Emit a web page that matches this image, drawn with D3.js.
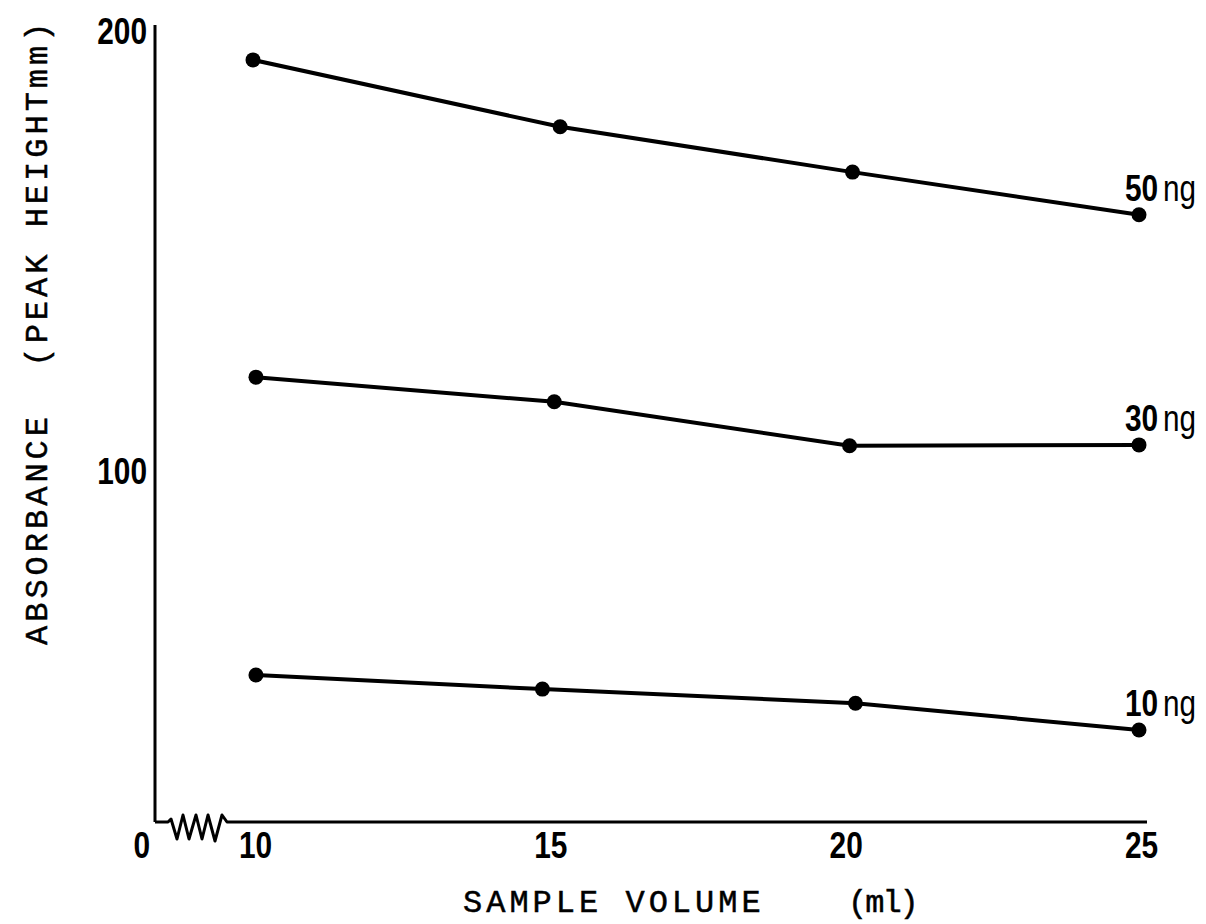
<!DOCTYPE html>
<html>
<head>
<meta charset="utf-8">
<script src="https://cdn.jsdelivr.net/npm/d3@7/dist/d3.min.js"></script>
<style>
  html, body { margin: 0; padding: 0; background: #fff; }
  svg { display: block; }
  .num { font-family: "Liberation Sans", Arial, sans-serif; font-weight: bold; font-size: 37px; fill: #000; }
  .unit { font-family: "Liberation Sans", Arial, sans-serif; font-weight: normal; font-size: 36px; fill: #000; }
  .title { font-family: "Liberation Mono", "DejaVu Sans Mono", monospace; font-size: 32px; fill: #000; stroke: #000; stroke-width: 0.5px; }
</style>
</head>
<body>
<script>
// ---- data ----
const seriesNames = ["50", "30", "10"];
const xTickValues = [10, 15, 20, 25];
const yTickValues = [100, 200];
const x50 = [10.0, 15.2, 20.15, 25.0];
const y50 = [193.2, 178.0, 167.7, 158.0];
const x30 = [10.05, 15.1, 20.1, 25.0];
const y30 = [121.1, 115.5, 105.5, 105.7];
const x10 = [10.05, 14.9, 20.2, 25.0];
const y10 = [53.4, 50.2, 47.0, 40.9];
const originLabel = "0";
const xTitleMain = "SAMPLE VOLUME";
const xTitleUnit = "(ml)";
const yTitle = "ABSORBANCE  (PEAK HEIGHTmm)";

const W = 1206, H = 924;
const DIGIT_W = 16.6;
const svg = d3.select("body").append("svg").attr("width", W).attr("height", H);

const x = d3.scaleLinear().domain([10, 25]).range([253, 1139]);
const y = d3.scaleLinear().domain([20, 200]).range([822, 30]);
const axisX = 155;
const baseY = y(20);

function condense(sel) {
  sel.each(function() {
    const n = this.textContent.length;
    d3.select(this).attr("textLength", n * DIGIT_W).attr("lengthAdjust", "spacingAndGlyphs");
  });
}

// y axis line
svg.append("line").attr("x1", axisX).attr("x2", axisX).attr("y1", 25).attr("y2", baseY)
  .attr("stroke", "#000").attr("stroke-width", 3);

// x axis with zigzag break
const zz = [[0,0],[13,0],[16,-3],[22,17],[28,-7],[34,17],[41,-7],[47,17],[53,-7],[60,19],[67,-7],[72,0],[78,0]];
const zzPath = d3.line()(zz.map(p => [axisX + p[0], baseY + p[1]]));
svg.append("path").attr("d", zzPath).attr("fill", "none").attr("stroke", "#000")
  .attr("stroke-width", 3).attr("stroke-linejoin", "round");
svg.append("line").attr("x1", axisX + 78).attr("x2", x(25) + 8).attr("y1", baseY).attr("y2", baseY)
  .attr("stroke", "#000").attr("stroke-width", 3);

// y tick labels
const yAxis = d3.axisLeft(y).tickValues(yTickValues).tickSize(0).tickPadding(8);
const gy = svg.append("g").attr("transform", `translate(${axisX},0)`).call(yAxis);
gy.select(".domain").remove();
gy.selectAll("text").attr("class", "num").attr("font-size", null).attr("font-family", null)
  .attr("dy", "0.36em").call(condense);

// x tick labels
const xAxis = d3.axisBottom(x).tickValues(xTickValues).tickSize(0).tickPadding(0);
const gx = svg.append("g").attr("transform", `translate(0,${baseY})`).call(xAxis);
gx.select(".domain").remove();
gx.selectAll("text").attr("class", "num").attr("font-size", null).attr("font-family", null)
  .attr("dy", null).attr("y", 36).attr("dx", 2).call(condense);

// origin label
svg.append("text").attr("class", "num").attr("x", axisX - 5).attr("y", baseY + 36)
  .attr("text-anchor", "end").text(originLabel).call(condense);

// series
const series = [
  { name: seriesNames[0], xs: x50, ys: y50 },
  { name: seriesNames[1], xs: x30, ys: y30 },
  { name: seriesNames[2], xs: x10, ys: y10 }
];
const line = d3.line().x(d => x(d[0])).y(d => y(d[1]));
series.forEach(s => {
  const pts = s.xs.map((v, i) => [v, s.ys[i]]);
  svg.append("path").attr("d", line(pts)).attr("fill", "none").attr("stroke", "#000")
    .attr("stroke-width", 4);
  svg.selectAll(null).data(pts).enter().append("circle")
    .attr("cx", d => x(d[0])).attr("cy", d => y(d[1])).attr("r", 7.5).attr("fill", "#000");
  const last = pts[pts.length - 1];
  const lx = x(last[0]) - 14, ly = y(last[1]) - 14;
  svg.append("text").attr("class", "num").attr("x", lx).attr("y", ly).text(s.name).call(condense);
  svg.append("text").attr("class", "unit").attr("x", lx + 38).attr("y", ly)
    .attr("textLength", 33).attr("lengthAdjust", "spacingAndGlyphs").text("ng");
});

// axis titles
svg.append("text").attr("class", "title").attr("x", 463).attr("y", 912)
  .attr("letter-spacing", "4px").text(xTitleMain);
svg.append("text").attr("class", "title").attr("x", 848).attr("y", 912)
  .attr("letter-spacing", "-2px").text(xTitleUnit);
svg.append("text").attr("class", "title")
  .attr("transform", `translate(47,645) rotate(-90)`)
  .attr("letter-spacing", "4px").style("white-space", "pre").text(yTitle);
</script>
</body>
</html>
